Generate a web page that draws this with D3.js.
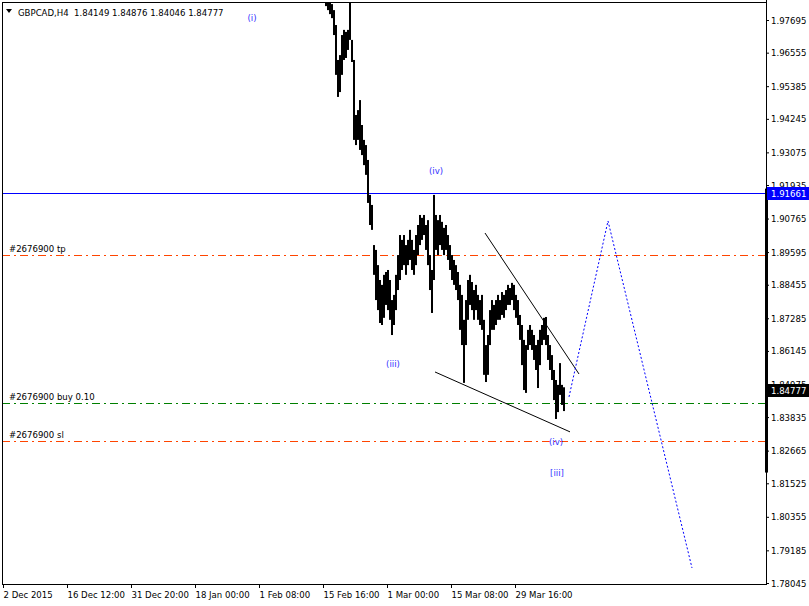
<!DOCTYPE html>
<html><head><meta charset="utf-8">
<script src="https://cdn.jsdelivr.net/npm/d3@7"></script>
<style>
body{margin:0;background:#fff}
svg{display:block}
text{font-family:"DejaVu Sans Condensed","Liberation Sans",Arial,sans-serif;font-size:9.5px;white-space:pre}
</style>
</head><body>
<svg id="c" width="809" height="606"></svg>
<script>
// ---------- data ----------
const symbol = "GBPCAD,H4";
const lastOHLC = [1.84149, 1.84876, 1.84046, 1.84777];
const firstBar = 322, barStep = 2;   // bar index of first visible column, bars per column
const highs = [
 1.9870,1.9839,1.9832,1.9825,1.9804,1.9752,1.9630,1.9647,1.9717,1.9735,
 1.9728,1.9735,1.9829,1.9700,1.9630,1.9438,1.9455,1.9490,1.9403,1.9351,
 1.9333,1.9281,1.9159,1.9124,1.8984,1.8967,1.8914,1.8862,1.8845,1.8880,
 1.8890,1.8897,1.8862,1.8792,1.8810,1.8880,1.8949,1.9019,1.9002,1.9019,
 1.8984,1.9002,1.9037,1.9002,1.8967,1.9019,1.9054,1.9089,1.9079,1.9089,
 1.9054,1.9071,1.8949,1.8897,1.9159,1.9089,1.9071,1.9089,1.9065,1.9044,
 1.9054,1.9019,1.8984,1.8949,1.8932,1.8914,1.8890,1.8845,1.8810,1.8723,
 1.8792,1.8862,1.8880,1.8855,1.8827,1.8845,1.8810,1.8792,1.8810,1.8723,
 1.8635,1.8670,1.8757,1.8792,1.8775,1.8792,1.8810,1.8792,1.8820,1.8810,
 1.8827,1.8845,1.8834,1.8852,1.8845,1.8810,1.8792,1.8740,1.8705,1.8653,
 1.8635,1.8688,1.8705,1.8688,1.8670,1.8635,1.8653,1.8688,1.8705,1.8730,
 1.8733,1.8670,1.8635,1.8600,1.8548,1.8513,1.8496,1.8572,1.8496,1.84876];
const lows = [
 1.9818,1.9804,1.9790,1.9776,1.9717,1.9578,1.9501,1.9518,1.9578,1.9630,
 1.9637,1.9665,1.9700,1.9623,1.9351,1.9333,1.9351,1.9316,1.9298,1.9263,
 1.9229,1.9131,1.9054,1.9037,1.8880,1.8792,1.8757,1.8712,1.8705,1.8730,
 1.8775,1.8757,1.8723,1.8670,1.8705,1.8757,1.8827,1.8862,1.8897,1.8914,
 1.8880,1.8914,1.8932,1.8897,1.8880,1.8914,1.8949,1.8984,1.9002,1.9019,
 1.8967,1.8914,1.8827,1.8747,1.8862,1.8967,1.8949,1.8984,1.8967,1.8949,
 1.8967,1.8932,1.8897,1.8862,1.8845,1.8827,1.8792,1.8688,1.8635,1.8503,
 1.8635,1.8723,1.8775,1.8757,1.8723,1.8757,1.8723,1.8705,1.8688,1.8531,
 1.8506,1.8531,1.8635,1.8688,1.8688,1.8705,1.8723,1.8723,1.8740,1.8730,
 1.8757,1.8775,1.8775,1.8792,1.8757,1.8730,1.8705,1.8653,1.8565,1.8478,
 1.8468,1.8618,1.8635,1.8618,1.8583,1.8548,1.8485,1.8565,1.8635,1.8653,
 1.8635,1.8583,1.8548,1.8513,1.8443,1.8377,1.8401,1.8461,1.8426,1.84046];

const yTicks = [1.97695,1.96555,1.95385,1.94245,1.93075,1.91935,1.90765,1.89595,1.88455,
                1.87285,1.86145,1.84975,1.83835,1.82665,1.81525,1.80355,1.79185,1.78045];
const xTickBars = [0,64,128,192,256,320,384,448,512];
const xTickLabels = ["2 Dec 2015","16 Dec 12:00","31 Dec 20:00","18 Jan 00:00","1 Feb 08:00",
                     "15 Feb 16:00","1 Mar 00:00","15 Mar 08:00","29 Mar 16:00"];

const levelPrice = 1.91661;
const orderLabels = ["#2676900 tp","#2676900 buy 0.10","#2676900 sl"];
const orderPrices = [1.89493, 1.84327, 1.83000];
const rangeBar = [1.9181, 1.8190];

const waveLabels = ["(i)","(iv)","(iii)","(iv)","[iii]"];
const waveBars   = [249, 433, 390, 553, 554];
const wavePrices = [1.9766, 1.9232, 1.8559, 1.8286, 1.8178];

const upperBars = [482, 576], upperPrices = [1.9026, 1.8534];
const lowerBars = [432, 567], lowerPrices = [1.8541, 1.8332];
const forecastBars = [566, 605, 689], forecastPrices = [1.8454, 1.9068, 1.7857];

// ---------- layout ----------
const L = 2, R = 766, T = 2, B = 584;
const FONT = "DejaVu Sans Condensed, Liberation Sans, Arial, sans-serif";
const svg = d3.select("#c");
const x = d3.scaleLinear().domain([0, 763]).range([3, 766]);
const y = d3.scaleLinear().domain([1.78045, 1.97695]).range([583, 20]);

svg.append("defs").append("clipPath").attr("id","plot")
  .append("rect").attr("x",L).attr("y",T).attr("width",R-L).attr("height",B-T);
const g = svg.append("g").attr("clip-path","url(#plot)");

// order lines
const orderColors = ["#ff4500","#008000","#ff4500"];
orderPrices.forEach((p,i)=>{
  g.append("line").attr("x1",L).attr("x2",R)
   .attr("y1",Math.round(y(p))+0.5).attr("y2",Math.round(y(p))+0.5)
   .attr("stroke",orderColors[i]).attr("stroke-width",1).attr("stroke-dasharray","8,4,2,4");
  svg.append("text").attr("x",9).attr("y",Math.round(y(p))-3).attr("font-size",9).attr("fill","#000").text(orderLabels[i]);
});

// level line
g.append("line").attr("x1",L).attr("x2",R)
 .attr("y1",Math.round(y(levelPrice))+0.5).attr("y2",Math.round(y(levelPrice))+0.5)
 .attr("stroke","#0000ff").attr("stroke-width",1);

// bars
g.selectAll("rect.bar").data(highs).enter().append("rect").attr("class","bar")
 .attr("x",(d,i)=>x(firstBar+i*barStep))
 .attr("width",2)
 .attr("y",d=>y(d))
 .attr("height",(d,i)=>Math.max(1,y(lows[i])-y(d)))
 .attr("fill","#000");

// trend lines
const line = d3.line().x(d=>x(d[0])).y(d=>y(d[1]));
g.append("path").attr("d",line(upperBars.map((b,i)=>[b,upperPrices[i]])))
 .attr("fill","none").attr("stroke","#000").attr("stroke-width",1);
g.append("path").attr("d",line(lowerBars.map((b,i)=>[b,lowerPrices[i]])))
 .attr("fill","none").attr("stroke","#000").attr("stroke-width",1);
g.append("path").attr("d",line(forecastBars.map((b,i)=>[b,forecastPrices[i]])))
 .attr("fill","none").attr("stroke","#0000ff").attr("stroke-width",1).attr("stroke-dasharray","2,2");

// wave labels
waveLabels.forEach((t,i)=>{
  svg.append("text").attr("x",x(waveBars[i])).attr("y",y(wavePrices[i]))
   .attr("text-anchor","middle").attr("font-size",10).attr("fill","#3333ff").text(t);
});

// frame
svg.append("line").attr("x1",L+0.5).attr("x2",L+0.5).attr("y1",T).attr("y2",B).attr("stroke","#000");
svg.append("line").attr("x1",L).attr("x2",R).attr("y1",T+0.5).attr("y2",T+0.5).attr("stroke","#000");

// right axis
const ya = svg.append("g").attr("transform",`translate(${R},0)`)
  .call(d3.axisRight(y).tickValues(yTicks).tickSize(3).tickPadding(2).tickFormat(d3.format(".5f")));
ya.select(".domain").remove();
ya.selectAll("text").attr("font-family",FONT).attr("font-size",9.5).attr("fill","#000");
svg.append("line").attr("x1",R+0.5).attr("x2",R+0.5).attr("y1",0).attr("y2",B+0.5).attr("stroke","#000");
svg.append("rect").attr("x",R-1).attr("y",y(rangeBar[0])).attr("width",3)
  .attr("height",y(rangeBar[1])-y(rangeBar[0])).attr("fill","#000");

// bottom axis
const xa = svg.append("g").attr("transform",`translate(0,${B})`)
  .call(d3.axisBottom(x).tickValues(xTickBars).tickSize(4).tickPadding(3).tickFormat((d,i)=>xTickLabels[i]));
xa.select(".domain").remove();
xa.selectAll("text").attr("text-anchor","start").attr("font-family",FONT)
  .attr("font-size",9).attr("fill","#000");
svg.append("line").attr("x1",L).attr("x2",R+1).attr("y1",B+0.5).attr("y2",B+0.5).attr("stroke","#000");

// price boxes
function priceBox(p, bg){
  const yy = Math.round(y(p));
  svg.append("rect").attr("x",R+1).attr("y",yy-6).attr("width",809-R-1).attr("height",13).attr("fill",bg);
  svg.append("text").attr("x",R+5).attr("y",yy+4).attr("fill","#fff").text(d3.format(".5f")(p));
}
priceBox(levelPrice,"#0000ff");
priceBox(lastOHLC[3],"#000");

// header
svg.append("path").attr("d","M6,9L12,9L9,13Z").attr("fill","#000");
svg.append("text").attr("x",18).attr("y",16).attr("fill","#000")
  .text(symbol + "  " + lastOHLC.map(d3.format(".5f")).join(" "));
</script>
</body></html>
